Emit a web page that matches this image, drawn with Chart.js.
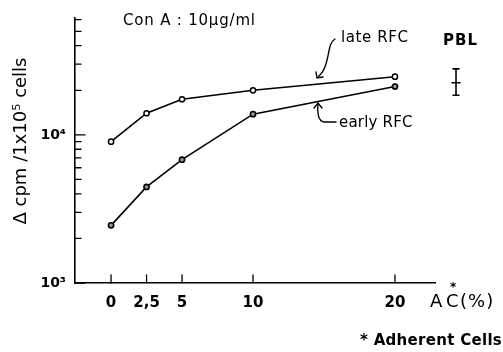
<!DOCTYPE html>
<html><head><meta charset="utf-8">
<script src="https://cdn.jsdelivr.net/npm/chart.js@4.4.0/dist/chart.umd.min.js"></script>
<style>html,body{margin:0;padding:0;background:#fff}#wrap{width:503px;height:352px}</style>
</head>
<body><div id="wrap"><canvas id="c" width="503" height="352"></canvas></div>
<script>
// ---- data ----
const doses = [0, 2.5, 5, 10, 20];
const xTickValues = [0, 2.5, 5, 10, 20];
const xTickLabels = ['0', '2,5', '5', '10', '20'];
const lateRFC = [9000, 14000, 17400, 20000, 24700];
const earlyRFC = [2450, 4450, 6800, 13800, 21200];
const yMajorTicks = [1000, 10000];
const yMajorLabels = ['10³', '10⁴'];
const yMinorTicks = [2000, 3000, 4000, 5000, 6000, 7000, 8000, 9000, 20000, 30000, 40000, 50000, 60000];
const pblX = 24.3;
const pblMean = 22500, pblLow = 18500, pblHigh = 27900;

const FONT = '"DejaVu Sans", "Liberation Sans", sans-serif';

function txt(ctx, s, x, y, font, spacing) {
  ctx.font = font;
  if ('letterSpacing' in ctx) ctx.letterSpacing = (spacing || 0) + 'px';
  ctx.fillText(s, x, y);
  const w = ctx.measureText(s).width;
  if ('letterSpacing' in ctx) ctx.letterSpacing = '0px';
  return w;
}

const annot = {
  id: 'annot',
  afterDraw(chart) {
    const ctx = chart.ctx, xs = chart.scales.x, ys = chart.scales.y, a = chart.chartArea;
    ctx.save();
    ctx.strokeStyle = '#000'; ctx.fillStyle = '#000'; ctx.lineCap = 'round';
    // inside tick marks
    ctx.lineWidth = 1.3;
    yMinorTicks.forEach(v => { const p = ys.getPixelForValue(v); ctx.beginPath(); ctx.moveTo(a.left, p); ctx.lineTo(a.left + 6, p); ctx.stroke(); });
    yMajorTicks.forEach(v => { const p = ys.getPixelForValue(v); ctx.beginPath(); ctx.moveTo(a.left, p); ctx.lineTo(a.left + 10, p); ctx.stroke(); });
    xTickValues.forEach(v => { const p = xs.getPixelForValue(v); ctx.beginPath(); ctx.moveTo(p, a.bottom); ctx.lineTo(p, a.bottom - 8); ctx.stroke(); });
    // PBL error bar
    const px = xs.getPixelForValue(pblX);
    const pm = ys.getPixelForValue(pblMean), pl = ys.getPixelForValue(pblLow), ph = ys.getPixelForValue(pblHigh);
    ctx.lineWidth = 1.6;
    ctx.beginPath(); ctx.moveTo(px, ph); ctx.lineTo(px, pl); ctx.stroke();
    [[ph, 3], [pl, 3], [pm, 4]].forEach(([p, w]) => { ctx.beginPath(); ctx.moveTo(px - w, p); ctx.lineTo(px + w, p); ctx.stroke(); });
    // texts
    ctx.textBaseline = 'middle';
    ctx.textAlign = 'left';
    txt(ctx, 'Con A : 10μg/ml', 123, 21, '15px ' + FONT, 0.8);
    txt(ctx, 'late RFC', 341, 38, '15px ' + FONT, 0.6);
    txt(ctx, 'early RFC', 339, 123, '15px ' + FONT, 0.2);
    txt(ctx, 'PBL', 443, 41, 'bold 15px ' + FONT, 1);
    txt(ctx, 'A', 430, 302, '18px ' + FONT, 0);
    txt(ctx, 'C', 446, 302, '18px ' + FONT, 0);
    txt(ctx, '(%)', 460, 302, '18px ' + FONT, 1);
    txt(ctx, '*', 450, 288, 'bold 12px ' + FONT, 0);
    txt(ctx, '* Adherent Cells', 360, 341, 'bold 15px ' + FONT, 0.3);
    // y title
    ctx.save();
    ctx.translate(21, 141); ctx.rotate(-Math.PI / 2);
    ctx.textAlign = 'center';
    ctx.font = '18px ' + FONT;
    ctx.fillText('Δ cpm /1x10⁵ cells', 0, 0);
    ctx.restore();
    // arrows
    ctx.lineWidth = 1.4;
    ctx.beginPath(); ctx.moveTo(335, 39); ctx.bezierCurveTo(326, 44, 331, 66, 318, 77); ctx.stroke();
    ctx.beginPath(); ctx.moveTo(316, 72); ctx.lineTo(317, 78); ctx.lineTo(323, 77); ctx.stroke();
    ctx.beginPath(); ctx.moveTo(336, 122); ctx.lineTo(324, 122); ctx.bezierCurveTo(318, 121, 317, 112, 318, 104); ctx.stroke();
    ctx.beginPath(); ctx.moveTo(314, 108); ctx.lineTo(318, 103); ctx.lineTo(322, 108); ctx.stroke();
    ctx.restore();
  }
};

const pts = arr => doses.map((d, i) => ({ x: d, y: arr[i] }));

new Chart(document.getElementById('c'), {
  type: 'line',
  data: {
    datasets: [
      { label: 'late RFC', data: pts(lateRFC), borderColor: '#000', borderWidth: 1.6, pointRadius: 2.6, pointBorderWidth: 1.5, pointBackgroundColor: '#fff', pointBorderColor: '#000', tension: 0 },
      { label: 'early RFC', data: pts(earlyRFC), borderColor: '#000', borderWidth: 1.6, pointRadius: 2.6, pointBorderWidth: 1.6, pointBackgroundColor: '#999', pointBorderColor: '#000', tension: 0 }
    ]
  },
  options: {
    responsive: false, animation: false,
    layout: { padding: { left: 35, top: 14, right: 68, bottom: 39 } },
    plugins: { legend: { display: false }, tooltip: { enabled: false } },
    scales: {
      x: {
        type: 'linear', min: -2.54, max: 22.82,
        afterBuildTicks: s => { s.ticks = xTickValues.map(v => ({ value: v })); },
        afterFit: s => { s.height = 30; },
        ticks: { callback: v => xTickLabels[xTickValues.indexOf(v)], autoSkip: false, maxRotation: 0, padding: 11, color: '#000', font: { family: FONT, size: 15, weight: 'bold' } },
        grid: { display: false, drawTicks: false },
        border: { display: true, color: '#000', width: 1.6 }
      },
      y: {
        type: 'logarithmic', min: 1000, max: 62100,
        afterBuildTicks: s => { s.ticks = yMajorTicks.map(v => ({ value: v })); },
        afterFit: s => { s.width = 40; },
        ticks: { callback: v => yMajorLabels[yMajorTicks.indexOf(v)], padding: 9, color: '#000', font: { family: FONT, size: 14, weight: 'bold' } },
        grid: { display: false, drawTicks: false },
        border: { display: true, color: '#000', width: 1.6 }
      }
    }
  },
  plugins: [annot]
});
</script>
</body></html>
